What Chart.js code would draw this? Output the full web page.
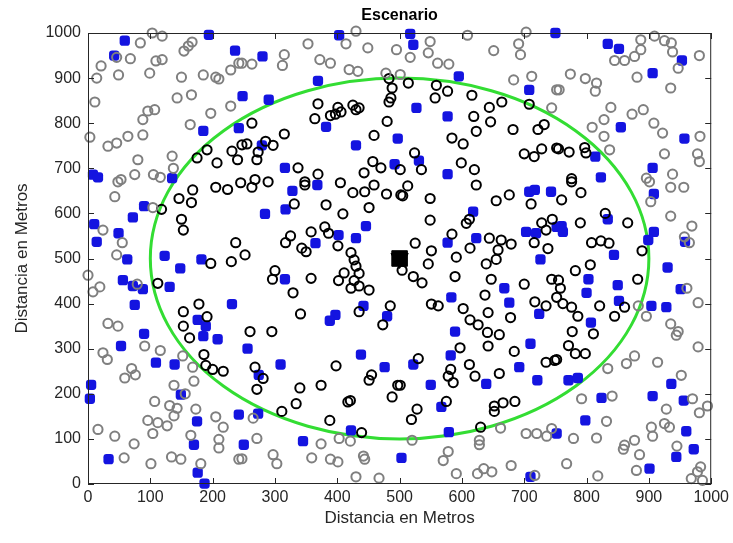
<!DOCTYPE html>
<html>
<head>
<meta charset="utf-8">
<script src="https://cdn.jsdelivr.net/npm/chart.js@4.4.1/dist/chart.umd.min.js"></script>
<style>
  html, body { margin: 0; padding: 0; background: #fff; }
  canvas { display: block; }
</style>
</head>
<body>
<canvas id="escenario" width="733" height="543"></canvas>
<script>
// Escenario: usuarios fuera (gris) y dentro (negro) de la celda, azules aparte
const axisTicks = [0, 100, 200, 300, 400, 500, 600, 700, 800, 900, 1000];
const titleText = 'Escenario';
const xLabel = 'Distancia en Metros';
const yLabel = 'Distancia en Metros';

const cellCenter = [500, 500];
const cellRadius = 400;

const grayPoints = [
  [103,1000],[119,993],[84,978],[46,946],[68,943],[21,927],[14,900],[49,907],[99,911],[109,938],[119,941],[154,960],[161,971],[167,980],[150,902],[185,907],[205,902],[210,898],[229,918],[242,933],[143,856],[166,863],[11,847],[96,827],[107,830],[88,808],[197,822],[229,838],[164,797],[3,769],[32,749],[46,756],[64,771],[88,774],[80,719],[135,727],[75,686],[105,686],[116,680],[53,675],[137,700],
  [430,1004],[353,976],[414,976],[449,967],[495,963],[315,952],[263,931],[247,933],[312,928],[372,941],[389,933],[419,919],[433,915],[478,911],
  [549,981],[609,995],[703,1002],[691,976],[651,961],[694,952],[546,956],[517,946],[561,933],[579,931],[683,896],[712,904],[752,874],[744,834],[501,908],
  [887,985],[909,993],[925,983],[936,978],[887,963],[877,948],[845,939],[861,939],[938,958],[981,950],[947,922],[774,909],[798,899],[816,889],[814,871],[881,902],[935,878],[756,874],[839,835],[873,820],[891,830],[828,808],[809,791],[828,771],[908,800],[922,778],[982,771],[837,741],[925,732],[978,732],[981,715],[938,687],[896,678],
  [43,637],[104,613],[24,563],[55,535],[46,508],[0,463],[19,437],[8,426],[79,443],[32,356],[48,350],[48,670],
  [901,670],[935,658],[956,658],[903,626],[935,594],[969,572],[957,548],[965,535],[961,434],[979,402],[883,395],[896,372],[935,355],[947,338],
  [91,306],[116,296],[24,291],[31,276],[70,256],[59,235],[76,242],[152,284],[168,259],[170,228],[138,219],[156,200],[107,183],[131,174],[143,168],[173,166],[138,151],[96,141],[112,136],[127,129],[205,149],[217,126],[16,121],[43,106],[74,89],[104,112],[165,108],[210,99],[210,80],[58,58],[101,45],[134,60],[149,55],[181,45],[242,55],
  [265,146],[271,101],[247,56],[297,65],[303,45],[374,89],[403,101],[421,95],[359,58],[389,55],[401,49],[442,62],[444,55],[430,16],[467,13],
  [520,97],[662,124],[703,112],[720,112],[736,106],[744,123],[628,97],[628,87],[578,72],[570,52],[679,41],[635,34],[625,23],[648,27],[591,23],[717,19],
  [944,330],[979,304],[914,270],[877,284],[864,267],[834,256],[952,241],[841,195],[792,189],[970,189],[928,166],[981,158],[994,173],[832,139],[904,126],[925,134],[933,126],[906,106],[877,97],[861,86],[859,77],[885,65],[779,101],[816,102],[945,84],[983,38],[978,27],[968,12],[986,8],[880,30],[818,18],[768,45]
];

const blackPoints = [
  [175,723],[191,741],[207,712],[231,738],[240,719],[247,752],
  [483,899],[488,878],[486,856],[483,847],[369,843],[401,835],[425,840],[435,834],[430,830],[364,810],[389,817],[397,820],[406,825],[480,804],[263,800],[315,776],[459,773],[255,754],[285,760],[297,751],[273,736],[271,719],[457,715],[470,701],[443,690],[337,701],[369,687],[268,675],[348,670],
  [514,889],[559,884],[577,871],[557,856],[616,862],[664,847],[644,835],[708,842],[619,815],[646,803],[623,782],[682,786],[732,797],[722,786],[584,767],[602,754],[524,734],[700,732],[716,726],[728,743],[752,745],[599,712],[620,697],[535,697],[501,697],
  [755,743],[772,736],[797,746],[799,734],[776,677],
  [118,609],[146,633],[168,652],[166,624],[205,658],[224,653],[245,668],[150,587],[153,563],[237,535],[230,493],[197,489],[112,445],[178,399],[153,382],[191,371],[153,350],
  [263,658],[289,670],[348,663],[405,668],[425,646],[444,648],[459,663],[479,643],[502,641],[331,621],[382,619],[409,599],[451,613],[358,559],[380,570],[386,556],[325,550],[317,535],[343,523],[350,515],[401,528],[422,513],[427,497],[430,483],[411,468],[435,467],[402,451],[427,451],[422,434],[451,430],[435,439],[252,508],[300,473],[296,454],[358,456],[329,424],[341,377],[435,382],[485,395],[473,353],[260,338],[295,338],
  [513,661],[505,639],[549,633],[623,663],[655,628],[676,641],[711,621],[549,585],[607,578],[612,587],[584,554],[728,579],[745,587],[735,563],[716,535],[738,522],[525,534],[551,517],[613,523],[644,545],[663,541],[679,532],[658,519],[655,498],[639,488],[591,503],[546,488],[504,474],[522,460],[536,446],[589,460],[647,454],[700,443],[744,454],[752,414],[637,419],[717,404],[735,395],[551,399],[562,395],[602,389],[613,364],[642,380],[678,369],[626,353],[641,336],
  [776,670],[791,646],[760,630],[830,600],[790,579],[866,579],[808,535],[823,539],[836,534],[889,517],[806,486],[782,473],[882,454],[755,452],[758,434],[762,400],[776,392],[786,372],[821,395],[861,392],[845,372],[777,338],[811,333],
  [163,324],[186,287],[189,263],[200,254],[217,250],
  [268,259],[281,234],[271,210],[398,262],[455,242],[451,230],[340,213],[374,219],[334,178],[311,161],[417,182],[421,185],[388,141],[439,114],[497,219],[488,193],
  [660,331],[642,306],[597,302],[684,294],[530,278],[612,265],[582,254],[621,239],[660,245],[578,239],[586,225],[735,270],[749,274],[501,219],[575,183],[528,166],[519,143],[652,173],[652,161],[666,180],[685,183],[630,126],
  [771,307],[782,289],[798,289],[752,276]
];

const bluePoints = [
  [59,983],[42,950],[194,996],[236,961],[248,860],[185,783],[242,789],[8,686],[16,680],[135,678],
  [403,995],[280,948],[369,894],[290,852],[382,792],[430,751],[497,766],[279,751],[316,701],[492,709],
  [517,998],[522,974],[750,1000],[595,904],[708,874],[527,834],[577,815],[531,717],[577,687],
  [834,976],[852,965],[953,939],[906,911],[855,791],[957,766],[814,726],[906,701],[823,680],
  [90,616],[72,591],[10,576],[14,537],[49,556],[63,498],[123,506],[148,478],[182,498],[56,452],[72,439],[88,432],[131,437],[75,397],[231,399],[176,364],[189,350],[90,333],
  [328,650],[368,663],[284,599],[317,609],[365,534],[402,552],[430,545],[446,572],[316,454],[397,375],[388,362],[442,395],[480,372],
  [708,648],[717,652],[743,648],[618,604],[577,535],[623,545],[703,559],[719,556],[752,570],[726,498],[668,434],[583,414],[676,402],[724,377],[589,338],
  [908,643],[760,572],[762,559],[834,587],[908,559],[899,541],[958,537],[844,508],[930,480],[803,454],[800,424],[850,441],[852,406],[951,432],[904,395],[928,392],[807,358],
  [53,306],[109,269],[139,265],[5,220],[3,189],[149,198],[175,139],[170,87],[33,55],[176,25],[187,1],[242,154],[250,87],[185,328],[208,321],
  [256,300],[309,265],[274,242],[438,287],[476,259],[273,156],[345,95],[422,119],[503,58],
  [710,311],[582,285],[522,265],[692,259],[550,220],[639,222],[721,230],[567,171],[579,115],[752,112],[710,16],
  [771,230],[786,235],[824,191],[798,141],[906,195],[936,222],[956,185],[960,117],[972,77],[944,60],[901,34]
];

const toXY = arr => arr.map(p => ({ x: p[0], y: p[1] }));

// circulo verde de cobertura, caja, marcas interiores y textos
const matlabLook = {
  id: 'matlabLook',
  beforeDatasetsDraw(chart) {
    const { ctx, scales: { x, y } } = chart;
    const cx = x.getPixelForValue(cellCenter[0]);
    const cy = y.getPixelForValue(cellCenter[1]);
    const rx = Math.abs(x.getPixelForValue(cellCenter[0] + cellRadius) - cx);
    const ry = Math.abs(y.getPixelForValue(cellCenter[1] + cellRadius) - cy);
    ctx.save();
    ctx.strokeStyle = '#33dd33';
    ctx.lineWidth = 3;
    ctx.beginPath();
    ctx.ellipse(cx, cy, rx, ry, 0, 0, Math.PI * 2);
    ctx.stroke();
    ctx.restore();
  },
  afterDraw(chart) {
    const { ctx, chartArea: a, scales: { x, y } } = chart;
    ctx.save();
    ctx.strokeStyle = '#262626';
    ctx.lineWidth = 1;
    ctx.strokeRect(a.left + 0.5, a.top + 0.5, a.right - a.left - 1, a.bottom - a.top - 1);
    ctx.beginPath();
    axisTicks.forEach(v => {
      const px = Math.round(x.getPixelForValue(v)) + 0.5;
      ctx.moveTo(px, a.bottom); ctx.lineTo(px, a.bottom - 6);
      ctx.moveTo(px, a.top); ctx.lineTo(px, a.top + 6);
      const py = Math.round(y.getPixelForValue(v)) + 0.5;
      ctx.moveTo(a.left, py); ctx.lineTo(a.left + 6, py);
      ctx.moveTo(a.right, py); ctx.lineTo(a.right - 6, py);
    });
    ctx.stroke();

    ctx.fillStyle = '#000';
    ctx.textAlign = 'center';
    ctx.textBaseline = 'middle';
    ctx.font = 'bold 16px "Liberation Sans", Arial, sans-serif';
    ctx.fillText(titleText, (a.left + a.right) / 2, 16);

    ctx.fillStyle = '#262626';
    ctx.font = '17px "Liberation Sans", Arial, sans-serif';
    ctx.fillText(xLabel, (a.left + a.right) / 2, 518);
    ctx.translate(22, (a.top + a.bottom) / 2);
    ctx.rotate(-Math.PI / 2);
    ctx.fillText(yLabel, 0, 0);
    ctx.restore();
  }
};

const tickFont = { family: '"Liberation Sans", Arial, sans-serif', size: 16 };

new Chart(document.getElementById('escenario'), {
  type: 'scatter',
  data: {
    datasets: [
      {
        label: 'fuera',
        data: toXY(grayPoints),
        pointStyle: 'circle',
        radius: 4.6,
        borderColor: '#7f7f7f',
        backgroundColor: 'rgba(0,0,0,0)',
        borderWidth: 2,
        clip: false
      },
      {
        label: 'dentro',
        data: toXY(blackPoints),
        pointStyle: 'circle',
        radius: 4.6,
        borderColor: '#000000',
        backgroundColor: 'rgba(0,0,0,0)',
        borderWidth: 2,
        clip: false
      },
      {
        label: 'azules',
        data: toXY(bluePoints),
        pointStyle: 'rectRounded',
        radius: 6,
        borderColor: '#1414e0',
        backgroundColor: '#1414e0',
        borderWidth: 0,
        clip: false
      },
      {
        label: 'estacion',
        data: toXY([cellCenter, cellCenter]),
        pointStyle: ['rect', 'triangle'],
        radius: [11, 10],
        rotation: [0, 180],
        borderColor: '#000',
        backgroundColor: '#000',
        borderWidth: 1,
        clip: false
      }
    ]
  },
  options: {
    responsive: false,
    animation: false,
    devicePixelRatio: 1,
    layout: { padding: { top: 33, right: 17, left: 0, bottom: 0 } },
    plugins: {
      legend: { display: false },
      tooltip: { enabled: false }
    },
    scales: {
      x: {
        type: 'linear',
        min: 0,
        max: 1000,
        grid: { display: false, drawTicks: false, tickLength: 0 },
        border: { display: false },
        afterFit: s => { s.height = 59; },
        afterBuildTicks: s => { s.ticks = axisTicks.map(v => ({ value: v })); },
        ticks: {
          color: '#262626',
          padding: 4,
          maxRotation: 0,
          autoSkip: false,
          font: tickFont,
          callback: v => String(v)
        }
      },
      y: {
        type: 'linear',
        min: 0,
        max: 1000,
        grid: { display: false, drawTicks: false, tickLength: 0 },
        border: { display: false },
        afterFit: s => { s.width = 88; },
        afterBuildTicks: s => { s.ticks = axisTicks.map(v => ({ value: v })); },
        ticks: {
          color: '#262626',
          padding: 7,
          autoSkip: false,
          font: tickFont,
          callback: v => String(v)
        }
      }
    }
  },
  plugins: [matlabLook]
});
</script>
</body>
</html>
